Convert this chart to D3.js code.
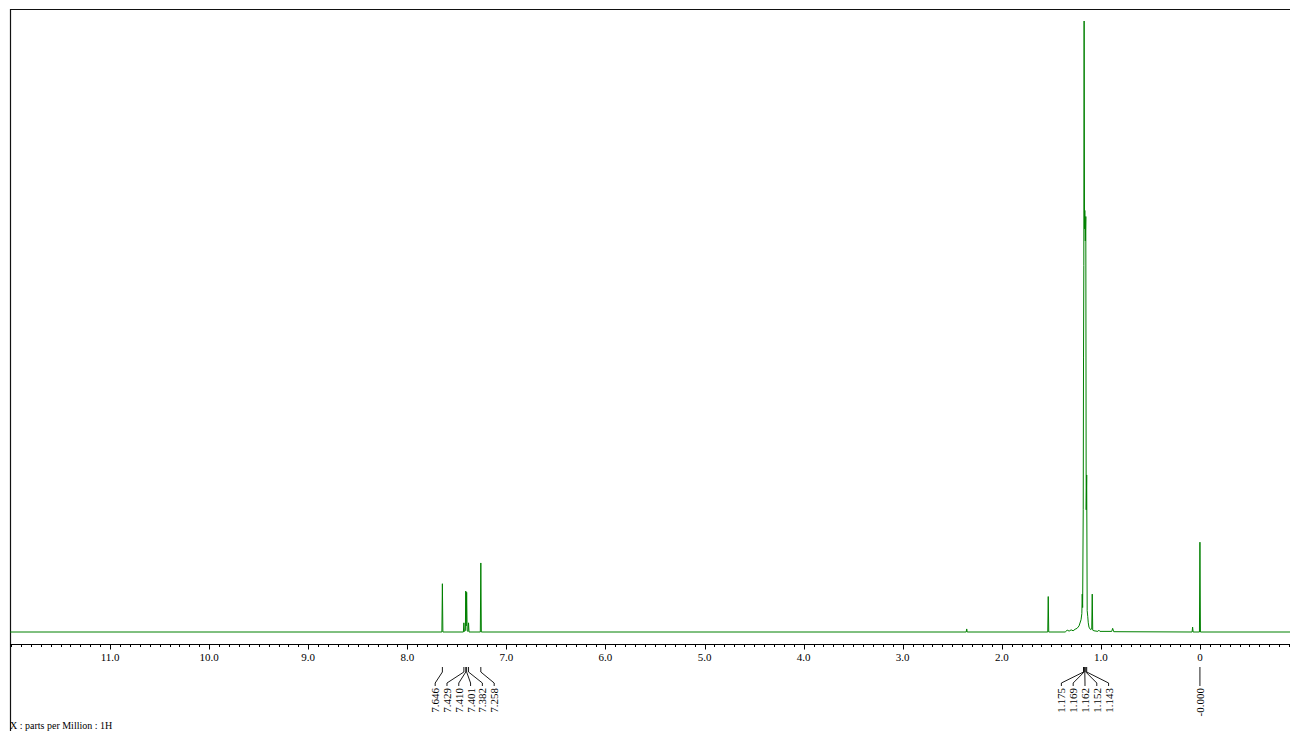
<!DOCTYPE html>
<html><head><meta charset="utf-8">
<script src="https://cdn.jsdelivr.net/npm/d3@7"></script>
<style>html,body{margin:0;padding:0;background:#fff;}svg{display:block;}</style>
</head><body><svg id="c" width="1290" height="731"></svg>
<script>
// ---- data ----
const majorTicks = [11, 10, 9, 8, 7, 6, 5, 4, 3, 2, 1, 0];
const tickLabels = ["11.0", "10.0", "9.0", "8.0", "7.0", "6.0", "5.0", "4.0", "3.0", "2.0", "1.0", "0"];
const specPpm = [12.01, 7.651, 7.646, 7.641, 7.434, 7.429, 7.424, 7.414, 7.410, 7.406, 7.401, 7.396, 7.387, 7.382, 7.377,
  7.263, 7.258, 7.253, 2.359, 2.354, 2.349, 1.536, 1.531, 1.526,
  1.36, 1.34, 1.32, 1.30, 1.28, 1.26, 1.24, 1.22, 1.20, 1.192, 1.188, 1.184, 1.178, 1.175, 1.172, 1.169, 1.165, 1.162,
  1.157, 1.152, 1.148, 1.143, 1.138, 1.132, 1.127, 1.120, 1.105, 1.092, 1.087, 1.082, 1.07, 1.03, 1.02, 1.01,
  0.89, 0.881, 0.87, 0.079, 0.074, 0.069, 0.005, 0.000, -0.005, -0.91];
const specInt = [0, 0, 7.9, 0, 0, 1.5, 0.1, 0.2, 6.7, 1.0, 6.5, 0.2, 0.1, 1.5, 0,
  0, 11.3, 0, 0, 0.5, 0, 0, 5.8, 0,
  0, 0.3, 0.15, 0.35, 0.2, 0.45, 0.6, 1.0, 2.0, 3.0, 6.2, 4.0, 20, 45, 60, 100, 66, 69,
  64, 68, 20, 25.7, 3.5, 2.5, 1.5, 0.8, 0.4, 0.5, 6.2, 0.3, 0.2, 0.1, 0.3, 0.1,
  0.1, 0.6, 0.05, 0, 0.8, 0, 0, 14.7, 0, 0];
const labelGroups = [
  {ppm: [7.646, 7.429, 7.410, 7.401, 7.382, 7.258], text: ["7.646", "7.429", "7.410", "7.401", "7.382", "7.258"]},
  {ppm: [1.175, 1.169, 1.162, 1.152, 1.143], text: ["1.175", "1.169", "1.162", "1.152", "1.143"]},
  {ppm: [0.000], text: ["-0.000"]}
];
const xTitle = "X : parts per Million : 1H";

// ---- drawing ----
const svg = d3.select("#c");
const x = d3.scaleLinear().domain([12.01, -0.909]).range([10, 1290]);
const y = d3.scaleLinear().domain([0, 100]).range([632, 21]);
const serif = "'Liberation Serif','Times New Roman',serif";

// frame
svg.append("path").attr("d", "M10.5,731V9.5H1290").attr("fill", "none").attr("stroke", "#111").attr("stroke-width", 1.2);

// spectrum
const pts = specPpm.map((p, i) => [p, specInt[i]]);
svg.append("path").datum(pts)
  .attr("d", d3.line().x(d => x(d[0])).y(d => y(d[1])))
  .attr("fill", "none").attr("stroke", "#008000").attr("stroke-width", 1);

// axis
const axisY = 644;
const ax = svg.append("g").attr("transform", `translate(0,${axisY})`);
ax.append("line").attr("x1", 10).attr("x2", 1290).attr("y1", 0.5).attr("y2", 0.5).attr("stroke", "#000");
const minor = d3.range(-9, 121).map(v => v / 10).filter(v => x(v) >= 10 && x(v) <= 1290);
ax.selectAll("line.mn").data(minor).enter().append("line")
  .attr("x1", d => Math.round(x(d)) + 0.5).attr("x2", d => Math.round(x(d)) + 0.5)
  .attr("y1", 0.5).attr("y2", 3).attr("stroke", "#000");
ax.selectAll("line.mj").data(majorTicks).enter().append("line")
  .attr("x1", d => Math.round(x(d)) + 0.5).attr("x2", d => Math.round(x(d)) + 0.5)
  .attr("y1", 0.5).attr("y2", 5.5).attr("stroke", "#000");
ax.selectAll("text.tl").data(majorTicks).enter().append("text")
  .attr("x", d => x(d)).attr("y", 17).attr("text-anchor", "middle")
  .attr("font-family", serif).attr("font-size", 11).attr("fill", "#000")
  .text((d, i) => tickLabels[i]);

// peak labels
const spacing = 11.8;
labelGroups.forEach(g => {
  const px = g.ppm.map(p => x(p));
  const cx = d3.mean(px);
  const n = px.length;
  px.forEach((xx, i) => {
    const lx = cx + (i - (n - 1) / 2) * spacing;
    svg.append("path")
      .attr("d", `M${xx},667V672L${lx},683V686`)
      .attr("fill", "none").attr("stroke", "#000").attr("stroke-width", 0.9);
    svg.append("text")
      .attr("transform", `translate(${lx + 4},688) rotate(-90)`)
      .attr("text-anchor", "end")
      .attr("font-family", serif).attr("font-size", 11).attr("fill", "#000")
      .text(g.text[i]);
  });
});

// x title
svg.append("text").attr("x", 10).attr("y", 729)
  .attr("font-family", serif).attr("font-size", 10).attr("fill", "#000").text(xTitle);
</script></body></html>
